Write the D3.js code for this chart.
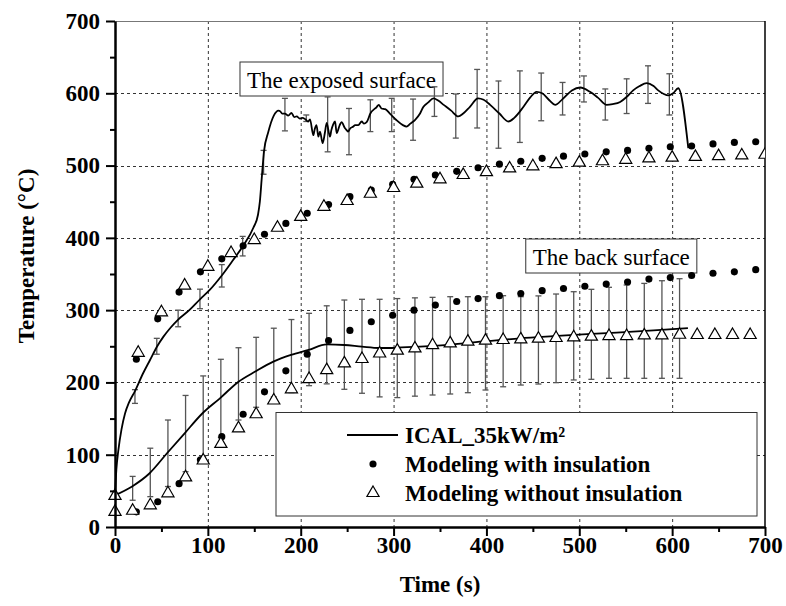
<!DOCTYPE html>
<html>
<head>
<meta charset="utf-8">
<script src="https://cdn.jsdelivr.net/npm/d3@7"></script>
<style>
  html, body { margin: 0; padding: 0; background: #fff; }
  svg { display: block; }
  text { font-family: "Liberation Serif", "Times New Roman", serif; fill: #000; }
</style>
</head>
<body>
<svg id="chart" width="786" height="606"></svg>
<script>
// ---- Exposed surface: measured (ICAL_35kW/m²) curve ----
const exposedTime = [0,1.5,3.6,7,10.8,15,21.5,30,37.7,45,52,60,68,80,91.5,102,115,127,138,149,154,156,158,160.5,165,171,176,178,180,183,186.6,190,193,195.7,199,202,205,208,210,213.6,215,217,219,220.8,223.6,226,228,231.5,233,235,237,238.7,242,244,247.5,249.5,251,253,256.7,258.5,262,265.7,268,271,275,281.8,284,287,291,296,303,310,314,318,323,328.5,332,337,343,348,354,362,369.7,375,382,391,397,404,414,423.6,430,439.7,447,454,460,468,474,482,492,501,511.5,520,529.5,536,544,551,558,565,572.6,580,585,591,596,601,606.6,617.4];
const exposedTemp = [45,80,106,135,157,172,188,212,231,249,263,276,287,300,315,328,348,369,389,414,432,450,482,520,546,569,576,575,572,572,569,573,567,568,565,566,564,561,564,542,550,556,540,547,531,545,559,540,549,557,561,545,556,560,552,549,547,551,554,556,556,561,558,560,572,581,584,579,578,572,563,556,554,558,563,572,581,587,593,590,584,576,568,572,581,593,591,584,572,561,566,581,594,602,600,590,584,592,604,608,602,594,584,585,588,595,604,610,614,610,604,599,597,600,607,524];

// Exposed surface error bars (measured scatter)
const exposedErrTime  = [21.5,45,68,91.5,115,137.5,160,183,206,229,252,275,298,321,344,367,390,413,436,459,482,505,528,551,574,597];
const exposedErrLow   = [171,239,277,302,332,375,488,548,561,519,515,547,547,535,568,538,552,524,532,562,570,588,563,572,586,570];
const exposedErrHigh  = [190,261,300,329,363,402,521,593,570,595,579,591,593,592,609,599,633,617,631,628,615,624,606,620,638,627];

// Exposed surface: modeling with insulation (dots)
const exposedInsTime = [23,46,69,92,115,138,161,184,207,230,253,276,299,322,345,368,391,414,437,460,483,506,529,552,575,598,621,644,667,690];
const exposedInsTemp = [232,288,325,353,371,389,405,420,434,446,457,466,474,481,487,492,497,502,506,510,513,516,519,521,524,526,527,530,532,533];

// Exposed surface: modeling without insulation (triangles)
const exposedNoInsTime = [0,25,50,75,100,125,150,175,200,225,250,275,300,325,350,375,400,425,450,475,500,525,550,575,600,625,650,675,700];
const exposedNoInsTemp = [43,241,297,334,360,379,397,414,429,443,451,461,469,475,481,487,491,496,499,502,504,506,508,510,511,512,513,514,515];

// ---- Back surface: measured curve ----
const backTime = [0,18,37,56,75,94,113,133,151,170.5,189.5,208.6,228,247,266,284.6,303,328.5,359,400,436,472,540,580,617];
const backTemp = [44,55.8,74,102,129.6,157,178,201,215,228.7,238,245,252.7,251.8,249.4,247.6,248,249.4,252,257,261,264,269,272,275];

// Back surface error bars
const backErrTime = [19,38,57,76,95,114,133,152,171,190,209,228,247,266,285,304,323,342,361,380,399,418,437,456,475,494,513,532,551,570,589,608];
const backErrLow  = [37,42,56,76.5,98,124,148,165.6,180,186,195.5,198,190.5,185,180,179,181,182.6,184,185.8,189.5,194,196.4,197.8,199.7,203.4,204.3,205.7,205.7,205.7,205.7,205.7];
const backErrHigh = [70,109,148,182,209,232,248,262.4,275,287,295.6,306,314,315,315,316,317,317.7,318.6,318.6,318.6,320,318.6,319.7,322.3,325.5,328.8,331.6,334.8,337,340.7,343.5];

// Back surface: modeling with insulation (dots)
const backInsTime = [23,46,69,92,115,138,161,184,207,230,253,276,299,322,345,368,391,414,437,460,483,506,529,552,575,598,621,644,667,690];
const backInsTemp = [21,35,60,93,125,156,187,216,239,258,272,284,293,300,307,312,316,320,323,327,330,333,336,339,343,345,348,351,353,356];

// Back surface: modeling without insulation (triangles)
const backNoInsTime = [0,19,38,57,76,95,114,133,152,171,190,209,228,247,266,285,304,323,342,361,380,399,418,437,456,475,494,513,532,551,570,589,608,627,646,665,684];
const backNoInsTemp = [21,22.5,30,46.6,68.7,92,115,136.5,156,175,190.5,204.7,217,226.4,232.4,240,244,247,251.5,254,256.4,257.8,258.7,259.6,260.5,261.5,262.4,263.3,264.2,264.2,265,265,266,265.6,265.6,265.6,265.6];

// Axis ticks and labels
const xTicks = [0,100,200,300,400,500,600,700];
const yTicks = [0,100,200,300,400,500,600,700];
const xMinor = [50,150,250,350,450,550,650];
const yMinor = [50,150,250,350,450,550,650];
const gridX = [100,200,300,400,500,600];
const gridY = [100,200,300,400,500,600];

const legendLabels = ["ICAL_35kW/m²", "Modeling with insulation", "Modeling without insulation"];
const annotationLabels = ["The exposed surface", "The back surface"];

// ---- Layout ----
const svg = d3.select("#chart");
const plotLeft = 115, plotRight = 765, plotTop = 21, plotBottom = 527;
const x = d3.scaleLinear().domain([0, 700]).range([plotLeft, plotRight]);
const y = d3.scaleLinear().domain([0, 700]).range([plotBottom, plotTop]);

const zip = (a, b) => a.map((v, i) => [v, b[i]]);

// Clip marks at the right frame edge
svg.append("defs").append("clipPath").attr("id", "plotClip")
  .append("rect").attr("x", 0).attr("y", 0).attr("width", plotRight).attr("height", 606);

// Grid
const grid = svg.append("g").attr("stroke", "#333").attr("stroke-width", 1).attr("stroke-dasharray", "3,3");
grid.selectAll("line.gx").data(gridX).join("line")
  .attr("x1", d => x(d) + 0.5).attr("x2", d => x(d) + 0.5)
  .attr("y1", plotTop).attr("y2", plotBottom);
grid.selectAll("line.gy").data(gridY).join("line")
  .attr("y1", d => Math.round(y(d)) + 0.5).attr("y2", d => Math.round(y(d)) + 0.5)
  .attr("x1", plotLeft).attr("x2", plotRight);

// Frame: grey top, black right
svg.append("line").attr("x1", plotLeft).attr("x2", plotRight).attr("y1", plotTop + 0.5).attr("y2", plotTop + 0.5)
  .attr("stroke", "#777").attr("stroke-width", 1);
svg.append("line").attr("x1", plotRight).attr("x2", plotRight).attr("y1", plotTop).attr("y2", plotBottom)
  .attr("stroke", "#000").attr("stroke-width", 1.5);

// Annotation boxes
function annotation(label, cx, baseline) {
  const g = svg.append("g");
  const t = g.append("text").attr("x", cx).attr("y", baseline).attr("text-anchor", "middle")
    .attr("font-size", 23).text(label);
  const bb = t.node().getBBox();
  g.insert("rect", "text")
    .attr("x", bb.x - 7).attr("y", baseline - 26).attr("width", bb.width + 14).attr("height", 34)
    .attr("fill", "#fff").attr("stroke", "#333").attr("stroke-width", 1);
}
annotation(annotationLabels[0], 341.5, 88);
annotation(annotationLabels[1], 611.3, 265);

const marks = svg.append("g").attr("clip-path", "url(#plotClip)");

// Error bars
function errorBars(times, lows, highs) {
  const g = marks.append("g").attr("stroke", "#555").attr("stroke-width", 1.3).attr("fill", "none");
  const data = times.map((t, i) => ({ t, lo: lows[i], hi: highs[i] }));
  g.selectAll("line.v").data(data).join("line").attr("class", "v")
    .attr("x1", d => x(d.t)).attr("x2", d => x(d.t))
    .attr("y1", d => y(d.lo)).attr("y2", d => y(d.hi));
  g.selectAll("line.lo").data(data).join("line").attr("class", "lo")
    .attr("x1", d => x(d.t) - 3).attr("x2", d => x(d.t) + 3)
    .attr("y1", d => y(d.lo)).attr("y2", d => y(d.lo));
  g.selectAll("line.hi").data(data).join("line").attr("class", "hi")
    .attr("x1", d => x(d.t) - 3).attr("x2", d => x(d.t) + 3)
    .attr("y1", d => y(d.hi)).attr("y2", d => y(d.hi));
}
errorBars(exposedErrTime, exposedErrLow, exposedErrHigh);
errorBars(backErrTime, backErrLow, backErrHigh);

// Measured curves
const line = d3.line().x(d => x(d[0])).y(d => y(d[1])).curve(d3.curveMonotoneX);
marks.append("path").datum(zip(exposedTime, exposedTemp)).attr("d", line)
  .attr("fill", "none").attr("stroke", "#000").attr("stroke-width", 1.8).attr("stroke-linejoin", "round");
marks.append("path").datum(zip(backTime, backTemp)).attr("d", line)
  .attr("fill", "none").attr("stroke", "#000").attr("stroke-width", 1.8).attr("stroke-linejoin", "round");

// Modeling points
const dot = d3.symbol(d3.symbolCircle, 40);
const tri = d3.symbol(d3.symbolTriangle, 64);
function dots(times, temps) {
  marks.append("g").selectAll("path").data(zip(times, temps)).join("path")
    .attr("d", dot).attr("transform", d => `translate(${x(d[0])},${y(d[1])})`)
    .attr("fill", "#000");
}
function triangles(times, temps) {
  marks.append("g").selectAll("path").data(zip(times, temps)).join("path")
    .attr("d", tri).attr("transform", d => `translate(${x(d[0])},${y(d[1])})`)
    .attr("fill", "#fff").attr("stroke", "#000").attr("stroke-width", 1.2);
}
dots(exposedInsTime, exposedInsTemp);
triangles(exposedNoInsTime, exposedNoInsTemp);
dots(backInsTime, backInsTemp);
triangles(backNoInsTime, backNoInsTemp);

// Axes
svg.append("g").attr("transform", `translate(0,${plotBottom})`)
  .call(d3.axisBottom(x).tickValues(xTicks).tickSize(9).tickSizeOuter(0).tickPadding(1).tickFormat(d3.format("d")));
svg.append("g").attr("transform", `translate(0,${plotBottom})`)
  .call(d3.axisBottom(x).tickValues(xMinor).tickSize(5).tickSizeOuter(0).tickFormat(""))
  .select(".domain").remove();
svg.append("g").attr("transform", `translate(${plotLeft},0)`)
  .call(d3.axisLeft(y).tickValues(yTicks).tickSize(9).tickSizeOuter(0).tickPadding(6).tickFormat(d3.format("d")));
svg.append("g").attr("transform", `translate(${plotLeft},0)`)
  .call(d3.axisLeft(y).tickValues(yMinor).tickSize(5).tickSizeOuter(0).tickFormat(""))
  .select(".domain").remove();

svg.selectAll(".domain").attr("stroke", "#000").attr("stroke-width", 2.5);
svg.selectAll(".tick line").attr("stroke", "#000").attr("stroke-width", 2);
svg.selectAll(".tick text")
  .attr("font-size", 23).attr("font-weight", "bold").attr("fill", "#000");

// Axis titles
svg.append("text").attr("x", (plotLeft + plotRight) / 2).attr("y", 592).attr("text-anchor", "middle")
  .attr("font-size", 23).attr("font-weight", "bold").text("Time (s)");
svg.append("text").attr("transform", "translate(34,256) rotate(-90)").attr("text-anchor", "middle")
  .attr("font-size", 23).attr("font-weight", "bold").text("Temperature (°C)");

// Legend
const lg = svg.append("g");
lg.append("rect").attr("x", 276).attr("y", 412.5).attr("width", 481).attr("height", 103.5)
  .attr("fill", "#fff").attr("stroke", "#333").attr("stroke-width", 1);
const rowY = [435, 464, 493];
lg.append("line").attr("x1", 347).attr("x2", 398).attr("y1", rowY[0]).attr("y2", rowY[0])
  .attr("stroke", "#000").attr("stroke-width", 1.8);
lg.append("path").attr("d", dot).attr("transform", `translate(373,${rowY[1]})`).attr("fill", "#000");
lg.append("path").attr("d", tri).attr("transform", `translate(373,${rowY[2]})`)
  .attr("fill", "#fff").attr("stroke", "#000").attr("stroke-width", 1.2);
lg.selectAll("text").data(legendLabels).join("text")
  .attr("x", 405).attr("y", (d, i) => rowY[i] + 8)
  .attr("font-size", 23).attr("font-weight", "bold").text(d => d);
</script>
</body>
</html>
